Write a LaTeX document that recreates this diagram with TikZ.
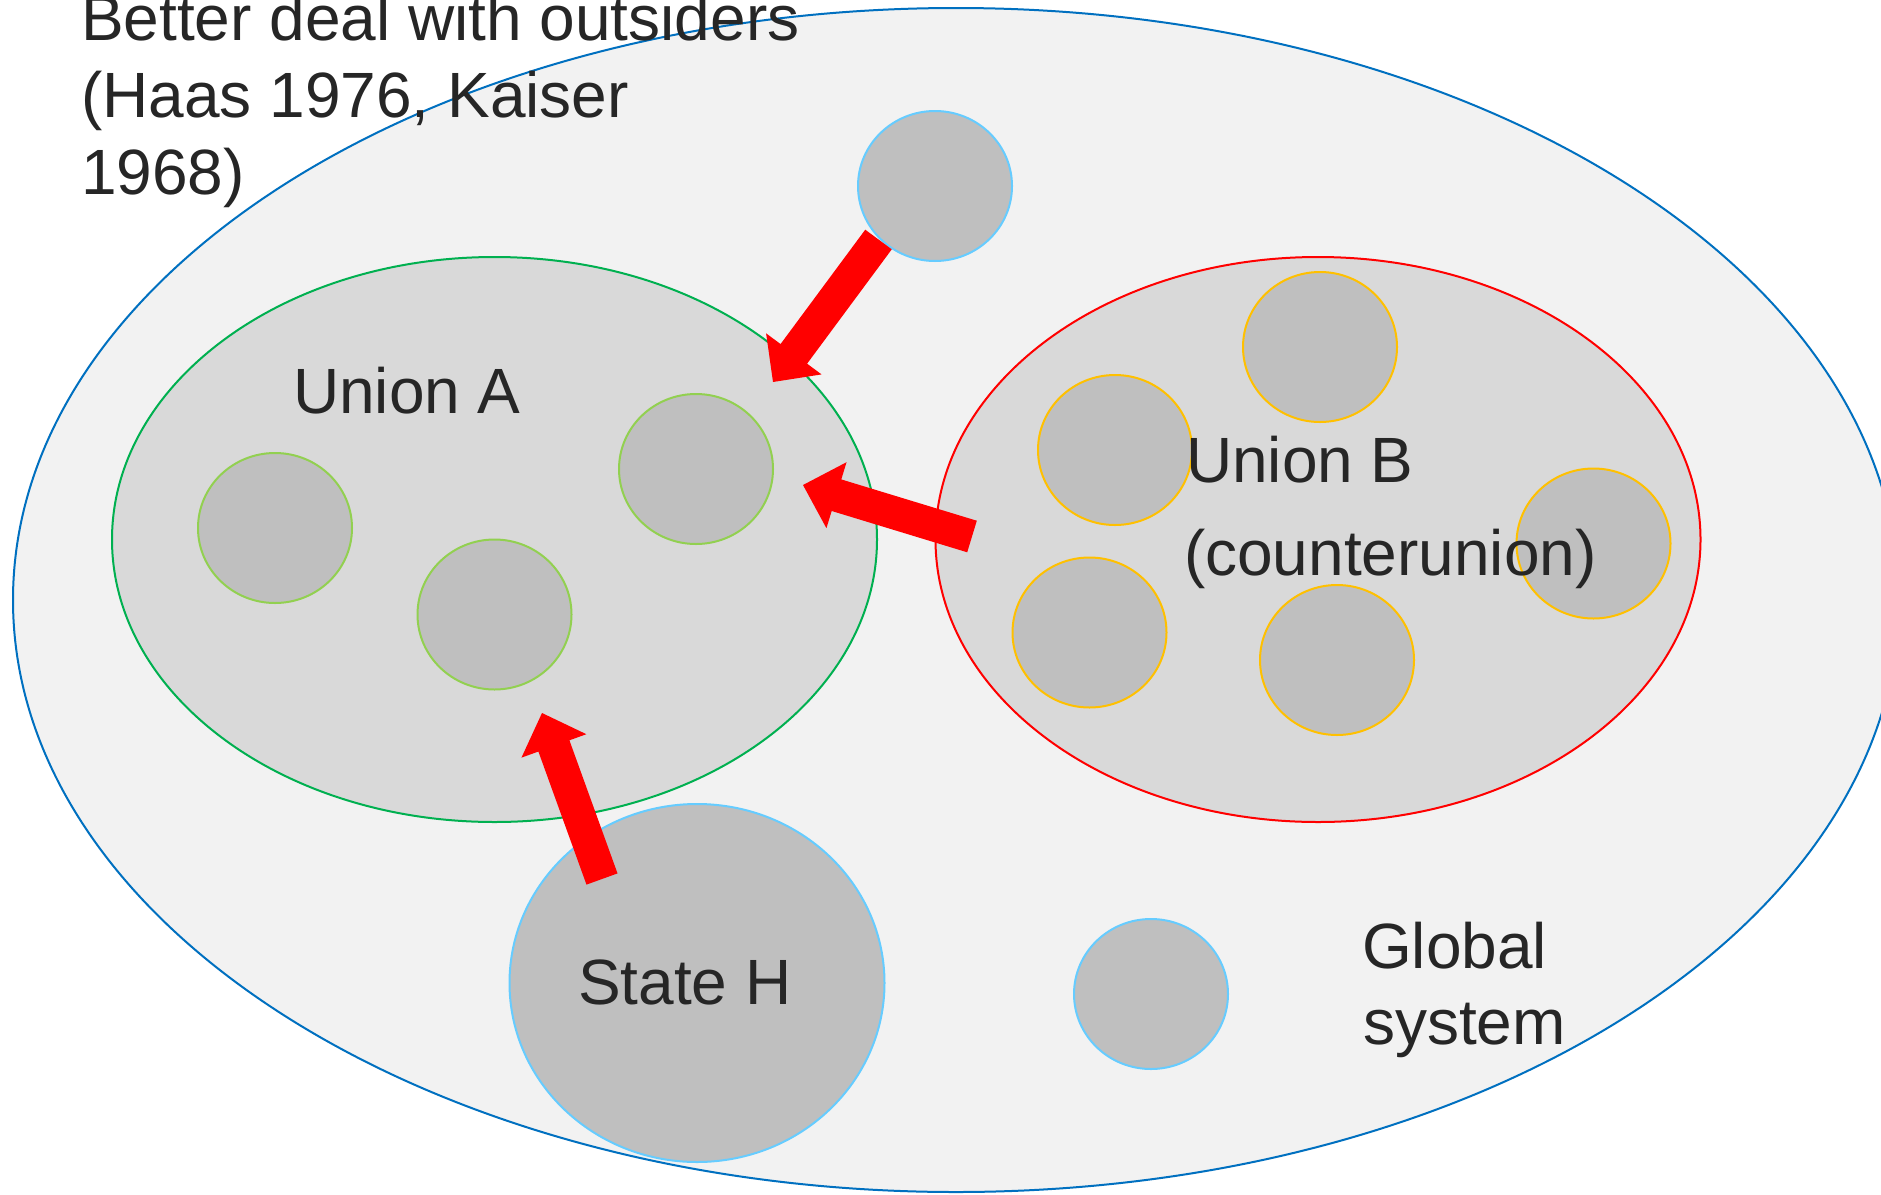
\documentclass[tikz,border=0pt]{standalone}
\usepackage{fontspec}
\setmainfont{Liberation Sans}
\usetikzlibrary{shapes.geometric,calc}
\definecolor{outerfill}{HTML}{F2F2F2}
\definecolor{outerblue}{HTML}{0070C0}
\definecolor{unionfill}{HTML}{D9D9D9}
\definecolor{memberfill}{HTML}{BFBFBF}
\definecolor{greenA}{HTML}{00B050}
\definecolor{redB}{HTML}{FF0000}
\definecolor{lightblue}{HTML}{66CCFF}
\definecolor{lightgreen}{HTML}{92D050}
\definecolor{gold}{HTML}{FFC000}
\definecolor{arrowred}{HTML}{FF0000}
\definecolor{textgray}{HTML}{262626}
\newcommand{\bigredarrow}[2]{%
  \coordinate (#1-#2-b) at ($(#2)!35pt!(#1)$);
  \fill[arrowred] ($(#1)!16.5pt!90:(#2)$) -- ($(#1-#2-b)!16.5pt!90:(#2)$)
    -- ($(#1-#2-b)!34.5pt!90:(#2)$) -- (#2)
    -- ($(#1-#2-b)!34.5pt!-90:(#2)$) -- ($(#1-#2-b)!16.5pt!-90:(#2)$)
    -- ($(#1)!16.5pt!-90:(#2)$) -- cycle;%
}
\begin{document}
\begin{tikzpicture}[x=1pt,y=-1pt,
  ell/.style={ellipse, inner sep=0pt, outer sep=0pt, line width=2pt},
  outerell/.style={ell, draw=outerblue, fill=outerfill, minimum width=1886pt, minimum height=1184pt},
  unionell/.style={ell, fill=unionfill, minimum width=765pt, minimum height=565pt},
  member/.style={ell, fill=memberfill, minimum width=154pt, minimum height=150pt},
  lbl/.style={anchor=base west, inner sep=0pt, outer sep=0pt, text=textgray, font=\fontsize{64}{77}\selectfont},
]
\useasboundingbox (0,0) rectangle (1881,1194);
\fill[white] (0,0) rectangle (1881,1194);

% global system
\node[outerell] (global) at (956,600) {};

% unions
\node[unionell, draw=greenA] (unionA) at (494.5,539.5) {};
\node[unionell, draw=redB] (unionB) at (1318,539.5) {};

% outsiders
\node[member, draw=lightblue] (out1) at (935,186) {};
\node[member, draw=lightblue] (out2) at (1151,994) {};
\node[ell, fill=memberfill, draw=lightblue, minimum width=375pt, minimum height=358pt] (stateH) at (697,983) {};

% members of union A
\node[member, draw=lightgreen] (a1) at (275,528) {};
\node[member, draw=lightgreen] (a2) at (494.5,614.5) {};
\node[member, draw=lightgreen] (a3) at (696,469) {};

% members of union B
\node[member, draw=gold] (b1) at (1320,347) {};
\node[member, draw=gold] (b2) at (1115,450) {};
\node[member, draw=gold] (b3) at (1593.5,543.5) {};
\node[member, draw=gold] (b4) at (1089.5,632.5) {};
\node[member, draw=gold] (b5) at (1337,660) {};

% arrows
\coordinate (t1) at (878.5,239.5);
\coordinate (h1) at (773,382);
\coordinate (t2) at (972,536.5);
\coordinate (h2) at (803,485);
\coordinate (t3) at (602,879);
\coordinate (h3) at (542,713);
\bigredarrow{t1}{h1}
\bigredarrow{t2}{h2}
\bigredarrow{t3}{h3}

% labels
\node[lbl] (title1) at (81,40) {Better deal with outsiders};
\node[lbl] (title2) at (81,117) {(Haas 1976, Kaiser};
\node[lbl] (title3) at (81,194) {1968)};
\node[lbl] (labA) at (293,413) {Union A};
\node[lbl] (labB1) at (1186,482) {Union B};
\node[lbl] (labB2) at (1184,575) {(counterunion)};
\node[lbl] (labH) at (578,1004) {State H};
\node[lbl] (labG1) at (1362,968) {Global};
\node[lbl] (labG2) at (1363,1044) {system};
\end{tikzpicture}
\end{document}
